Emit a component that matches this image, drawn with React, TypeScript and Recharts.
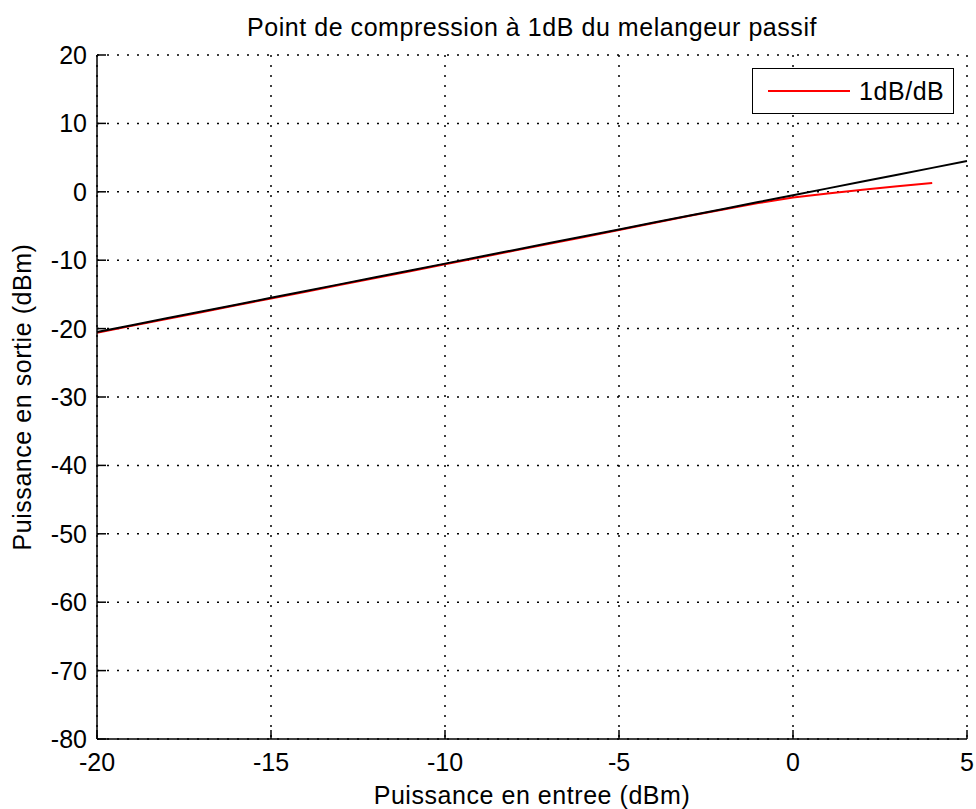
import React from "react"
import { LineChart, Line, XAxis, YAxis, CartesianGrid } from "recharts"

// puissance d'entree (dBm)
const inputDbm = [-20, -19, -18, -17, -16, -15, -14, -13, -12, -11, -10, -9, -8, -7, -6, -5, -4, -3, -2, -1, 0, 1, 2, 3, 4, 5]
// droite lineaire (noir)
const linearOut = [-20.5, -19.5, -18.5, -17.5, -16.5, -15.5, -14.5, -13.5, -12.5, -11.5, -10.5, -9.5, -8.5, -7.5, -6.5, -5.5, -4.5, -3.5, -2.5, -1.5, -0.5, 0.5, 1.5, 2.5, 3.5, 4.5]
// sortie du melangeur (rouge)
const mixerOut = [-20.6, -19.6, -18.6, -17.6, -16.6, -15.6, -14.6, -13.6, -12.6, -11.6, -10.6, -9.6, -8.6, -7.6, -6.6, -5.6, -4.55, -3.55, -2.6, -1.65, -0.85, -0.25, 0.3, 0.8, 1.3, null]

const xTicks = [-20, -15, -10, -5, 0, 5]
const yTicks = [-80, -70, -60, -50, -40, -30, -20, -10, 0, 10, 20]

const title = "Point de compression à 1dB du melangeur passif"
const xLabel = "Puissance en entree (dBm)"
const yLabel = "Puissance en sortie (dBm)"
const legendLabel = "1dB/dB"

const data = inputDbm.map((x, i) => ({ x, lin: linearOut[i], mix: mixerOut[i] }))

const FONT = "'Liberation Sans', Arial, sans-serif"
const TICK_LEN = 9

// ticks a l'interieur, facon matlab
const BottomTick = (props: any) => {
  const { x, y, payload } = props
  const axisY = y - 14
  return (
    <g>
      <line x1={x} x2={x} y1={axisY} y2={axisY - TICK_LEN} stroke="#000" strokeWidth={1.5} />
      <text x={x} y={y} dy="0.72em" textAnchor="middle" fontSize={25} fontFamily={FONT} fill="#000">
        {payload.value}
      </text>
    </g>
  )
}

const LeftTick = (props: any) => {
  const { x, y, payload } = props
  const axisX = x + 10
  return (
    <g>
      <line x1={axisX} x2={axisX + TICK_LEN} y1={y} y2={y} stroke="#000" strokeWidth={1.5} />
      <text x={x} y={y} dy="0.36em" textAnchor="end" fontSize={25} fontFamily={FONT} fill="#000">
        {payload.value}
      </text>
    </g>
  )
}

const TopTick = (props: any) => (
  <line x1={props.x} x2={props.x} y1={props.y} y2={props.y + TICK_LEN} stroke="#000" strokeWidth={1.5} />
)

const RightTick = (props: any) => (
  <line x1={props.x - TICK_LEN} x2={props.x} y1={props.y} y2={props.y} stroke="#000" strokeWidth={1.5} />
)

const textStyle: React.CSSProperties = {
  position: "absolute",
  fontFamily: FONT,
  fontSize: 25,
  letterSpacing: 0.55,
  whiteSpace: "nowrap",
  color: "#000",
}

export default function App() {
  return (
    <div style={{ position: "relative", width: 976, height: 809, background: "#fff" }}>
      <style>{`body{margin:0}`}</style>
      <LineChart width={976} height={809} data={data} margin={{ top: 55, right: 9, bottom: 0, left: 0 }}>
        <CartesianGrid xAxisId="b" yAxisId="l" stroke="#000" strokeWidth={1.5} strokeDasharray="2 8" />
        <XAxis
          xAxisId="b"
          dataKey="x"
          type="number"
          domain={[-20, 5]}
          ticks={xTicks}
          height={70}
          tickSize={0}
          tickMargin={14}
          tickLine={false}
          stroke="#000"
          strokeWidth={1.5}
          tick={<BottomTick />}
        />
        <XAxis
          xAxisId="t"
          orientation="top"
          dataKey="x"
          type="number"
          domain={[-20, 5]}
          ticks={xTicks}
          height={0}
          tickSize={0}
          tickMargin={0}
          tickLine={false}
          stroke="#000"
          strokeWidth={1.5}
          tick={<TopTick />}
        />
        <YAxis
          yAxisId="l"
          type="number"
          domain={[-80, 20]}
          ticks={yTicks}
          width={97}
          tickSize={0}
          tickMargin={10}
          tickLine={false}
          stroke="#000"
          strokeWidth={1.5}
          tick={<LeftTick />}
        />
        <YAxis
          yAxisId="r"
          orientation="right"
          type="number"
          domain={[-80, 20]}
          ticks={yTicks}
          width={0}
          tickSize={0}
          tickMargin={0}
          tickLine={false}
          stroke="#000"
          strokeWidth={1.5}
          tick={<RightTick />}
        />
        <Line xAxisId="b" yAxisId="l" type="linear" dataKey="mix" stroke="#ff0000" strokeWidth={2} dot={false} isAnimationActive={false} connectNulls={false} />
        <Line xAxisId="b" yAxisId="l" type="linear" dataKey="lin" stroke="#000" strokeWidth={2} dot={false} isAnimationActive={false} />
      </LineChart>
      <div
        style={{
          position: "absolute",
          left: 752,
          top: 68,
          width: 200,
          height: 44,
          border: "1.5px solid #000",
          background: "#fff",
          display: "flex",
          alignItems: "center",
          fontFamily: FONT,
          fontSize: 25,
          letterSpacing: 0.55,
          color: "#000",
        }}
      >
        <div style={{ width: 82, height: 2, background: "#ff0000", marginLeft: 15, marginRight: 9 }} />
        <span>{legendLabel}</span>
      </div>
      <div style={{ ...textStyle, left: 532, top: 27, transform: "translate(-50%, -50%)" }}>{title}</div>
      <div style={{ ...textStyle, left: 532, top: 795, transform: "translate(-50%, -50%)" }}>{xLabel}</div>
      <div style={{ ...textStyle, left: 22, top: 397, transform: "translate(-50%, -50%) rotate(-90deg)" }}>{yLabel}</div>
    </div>
  )
}
